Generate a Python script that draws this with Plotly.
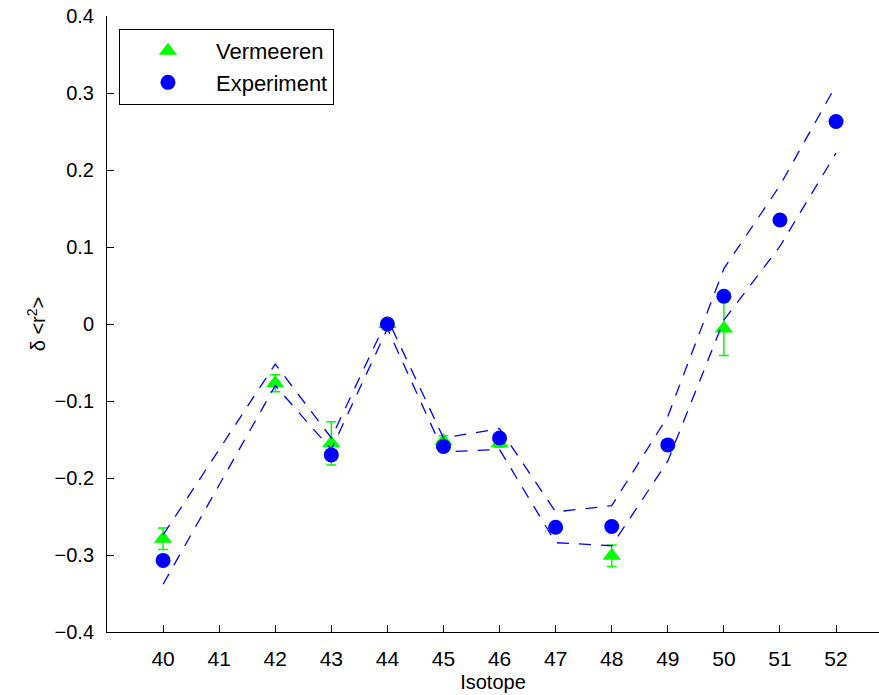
import plotly.graph_objects as go

# Isotope mass numbers on the x axis
isotopes = [40, 41, 42, 43, 44, 45, 46, 47, 48, 49, 50, 51, 52]

# Vermeeren values with symmetric uncertainties (None = no value)
vermeeren = [-0.279, None, -0.077, -0.155, 0.000, -0.152, -0.155, None, -0.301, None, -0.006, None, None]
vermeeren_err = [0.014, None, 0.011, 0.028, 0.005, 0.007, 0.005, None, 0.014, None, 0.035, None, None]

# Experimental values
experiment = [-0.307, None, None, -0.170, 0.000, -0.159, -0.148, -0.264, -0.263, -0.157, 0.036, 0.135, 0.263]

# Upper and lower limits of the experimental band (dashed)
band_isotopes = [40, 42, 43, 44, 45, 46, 47, 48, 49, 50, 51, 52]
band_upper = [-0.274, -0.052, -0.148, 0.007, -0.148, -0.136, -0.244, -0.236, -0.120, 0.072, 0.180, 0.310]
band_lower = [-0.338, -0.080, -0.163, -0.006, -0.166, -0.163, -0.284, -0.288, -0.178, 0.005, 0.101, 0.222]

y_ticks = [-0.4, -0.3, -0.2, -0.1, 0, 0.1, 0.2, 0.3, 0.4]

GREEN = "#00FF00"
BLUE = "#0000FF"
FONT = "Liberation Sans, Arial, sans-serif"

fig = go.Figure()

fig.add_trace(go.Scatter(
    x=isotopes, y=vermeeren, name="Vermeeren", mode="markers",
    marker=dict(symbol="triangle-up", size=16, color=GREEN, line=dict(width=0)),
    error_y=dict(type="data", array=vermeeren_err, visible=True,
                 color=GREEN, thickness=1.5, width=5),
))

for band in (band_upper, band_lower):
    fig.add_trace(go.Scatter(
        x=band_isotopes, y=band, mode="lines", showlegend=False,
        line=dict(color=BLUE, width=1.3, dash="12px,10px"),
        hoverinfo="skip",
    ))

fig.add_trace(go.Scatter(
    x=isotopes, y=experiment, name="Experiment", mode="markers",
    marker=dict(symbol="circle", size=15, color=BLUE, line=dict(width=0)),
))

fig.update_layout(
    width=879, height=695,
    margin=dict(l=107, r=0, t=16, b=63),
    paper_bgcolor="white", plot_bgcolor="white",
    font=dict(family=FONT, size=20, color="black"),
    showlegend=True,
    legend=dict(
        x=0.0155, y=0.979, xanchor="left", yanchor="top",
        bgcolor="white", bordercolor="black", borderwidth=1,
        font=dict(size=22, family=FONT, color="black"),
        itemwidth=86, tracegroupgap=0,
    ),
    xaxis=dict(
        range=[39, 39 + 772 / 56.08],
        tickvals=isotopes, ticktext=[str(v) for v in isotopes],
        tickfont=dict(size=21),
        ticks="inside", ticklen=7, tickcolor="black", tickwidth=1,
        showline=True, linecolor="black", linewidth=1, mirror=False,
        showgrid=False, zeroline=False,
        ticklabelstandoff=8,
        title=dict(text="Isotope", font=dict(size=20), standoff=5),
    ),
    yaxis=dict(
        range=[-0.4, 0.4],
        tickvals=y_ticks,
        ticks="inside", ticklen=7, tickcolor="black", tickwidth=1,
        showline=True, linecolor="black", linewidth=1, mirror=False,
        showgrid=False, zeroline=False,
        ticklabelstandoff=8,
        title=dict(text="δ &lt;r<sup>2</sup>&gt;", font=dict(size=20), standoff=3),
    ),
)

fig.write_html("out.html")
